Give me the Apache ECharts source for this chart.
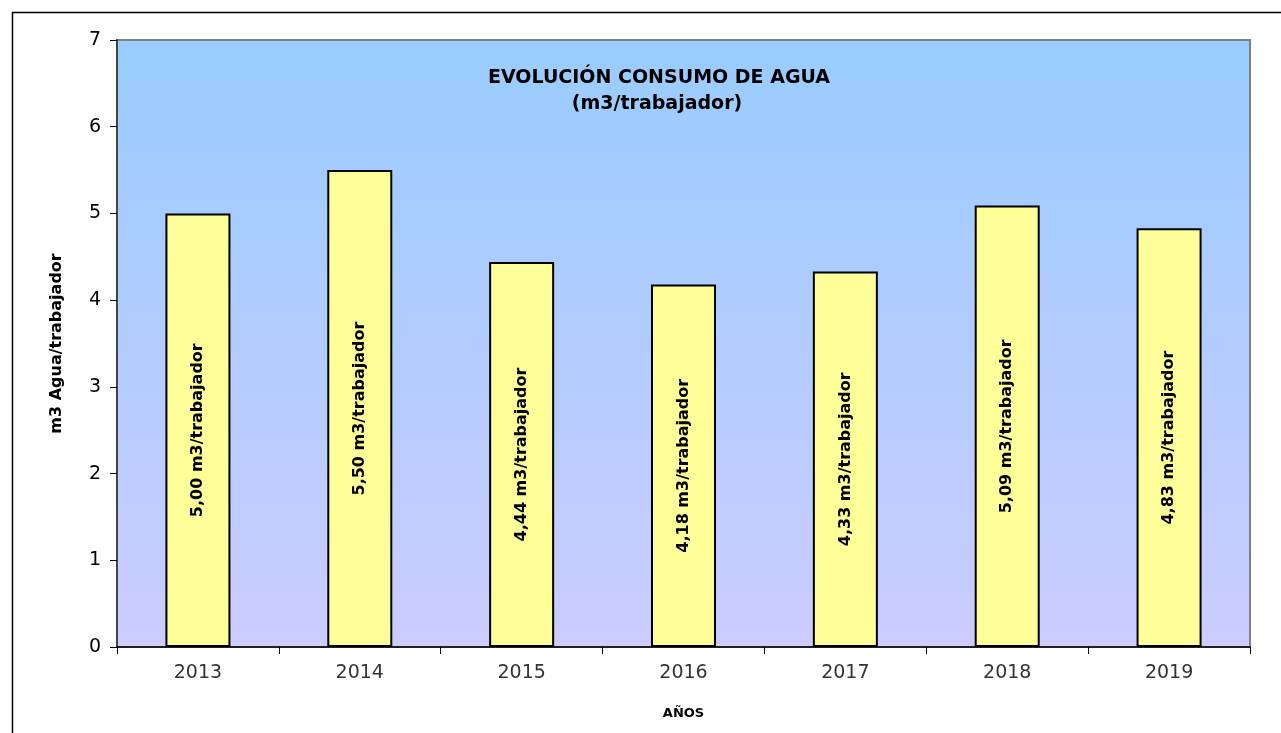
<!DOCTYPE html>
<html>
<head>
<meta charset="utf-8">
<script src="https://cdn.jsdelivr.net/npm/echarts@6/dist/echarts.min.js"></script>
<style>
  html, body { margin: 0; padding: 0; background: #fff; }
  #chart { width: 1281px; height: 733px; }
</style>
</head>
<body>
<div id="chart"></div>
<script>
  const years = ['2013', '2014', '2015', '2016', '2017', '2018', '2019']
  const consumo = [5.00, 5.50, 4.44, 4.18, 4.33, 5.09, 4.83]
  const yTicks = [0, 1, 2, 3, 4, 5, 6, 7]

  const chart = echarts.init(document.getElementById('chart'))
  chart.setOption({
    animation: false,
    graphic: [
      {
        type: 'rect',
        left: 10,
        top: 10,
        shape: { width: 1300, height: 800 },
        style: { fill: 'none', stroke: '#000', lineWidth: 1.5 },
        silent: true
      }
    ],
    title: [
      {
        text: 'EVOLUCIÓN CONSUMO DE AGUA',
        left: 654,
        top: 64,
        textAlign: 'center',
        textStyle: { fontFamily: 'DejaVu Sans', fontWeight: 'bold', fontSize: 19, color: '#000' }
      },
      {
        text: '(m3/trabajador)',
        left: 652,
        top: 90,
        textAlign: 'center',
        textStyle: { fontFamily: 'DejaVu Sans', fontWeight: 'bold', fontSize: 19, color: '#000' }
      }
    ],
    grid: {
      left: 117,
      right: 31,
      top: 40,
      bottom: 86,
      show: true,
      borderColor: '#808080',
      borderWidth: 2,
      backgroundColor: {
        type: 'linear', x: 0, y: 0, x2: 0, y2: 1,
        colorStops: [
          { offset: 0, color: '#99ccff' },
          { offset: 1, color: '#ccccff' }
        ]
      }
    },
    xAxis: {
      type: 'category',
      data: years,
      name: 'AÑOS',
      nameLocation: 'middle',
      nameGap: 60,
      nameTextStyle: { fontFamily: 'DejaVu Sans', fontWeight: 'bold', fontSize: 13, color: '#000' },
      axisLine: { lineStyle: { color: '#000', width: 1.5 } },
      axisTick: { show: true, length: 7, lineStyle: { color: '#000' } },
      axisLabel: { fontFamily: 'DejaVu Sans', fontSize: 19, color: '#333', margin: 17 },
      splitLine: { show: false }
    },
    yAxis: {
      type: 'value',
      min: yTicks[0],
      max: yTicks[yTicks.length - 1],
      interval: 1,
      name: 'm3 Agua/trabajador',
      nameLocation: 'middle',
      nameGap: 52,
      nameTextStyle: { fontFamily: 'DejaVu Sans', fontWeight: 'bold', fontSize: 16, color: '#000' },
      axisLine: { show: true, lineStyle: { color: '#444', width: 2 } },
      axisTick: { show: true, length: 7, lineStyle: { color: '#000' } },
      axisLabel: { fontFamily: 'DejaVu Sans', fontSize: 19, color: '#000', margin: 16 },
      splitLine: { show: false }
    },
    series: [
      {
        type: 'bar',
        data: consumo,
        barWidth: 65,
        itemStyle: { color: '#ffff99', borderColor: '#000', borderWidth: 2 },
        label: {
          show: true,
          position: 'inside',
          rotate: 90,
          fontFamily: 'DejaVu Sans',
          fontWeight: 'bold',
          fontSize: 16,
          color: '#000',
          formatter: p => p.value.toFixed(2).replace('.', ',') + ' m3/trabajador'
        }
      }
    ]
  })
</script>
</body>
</html>
